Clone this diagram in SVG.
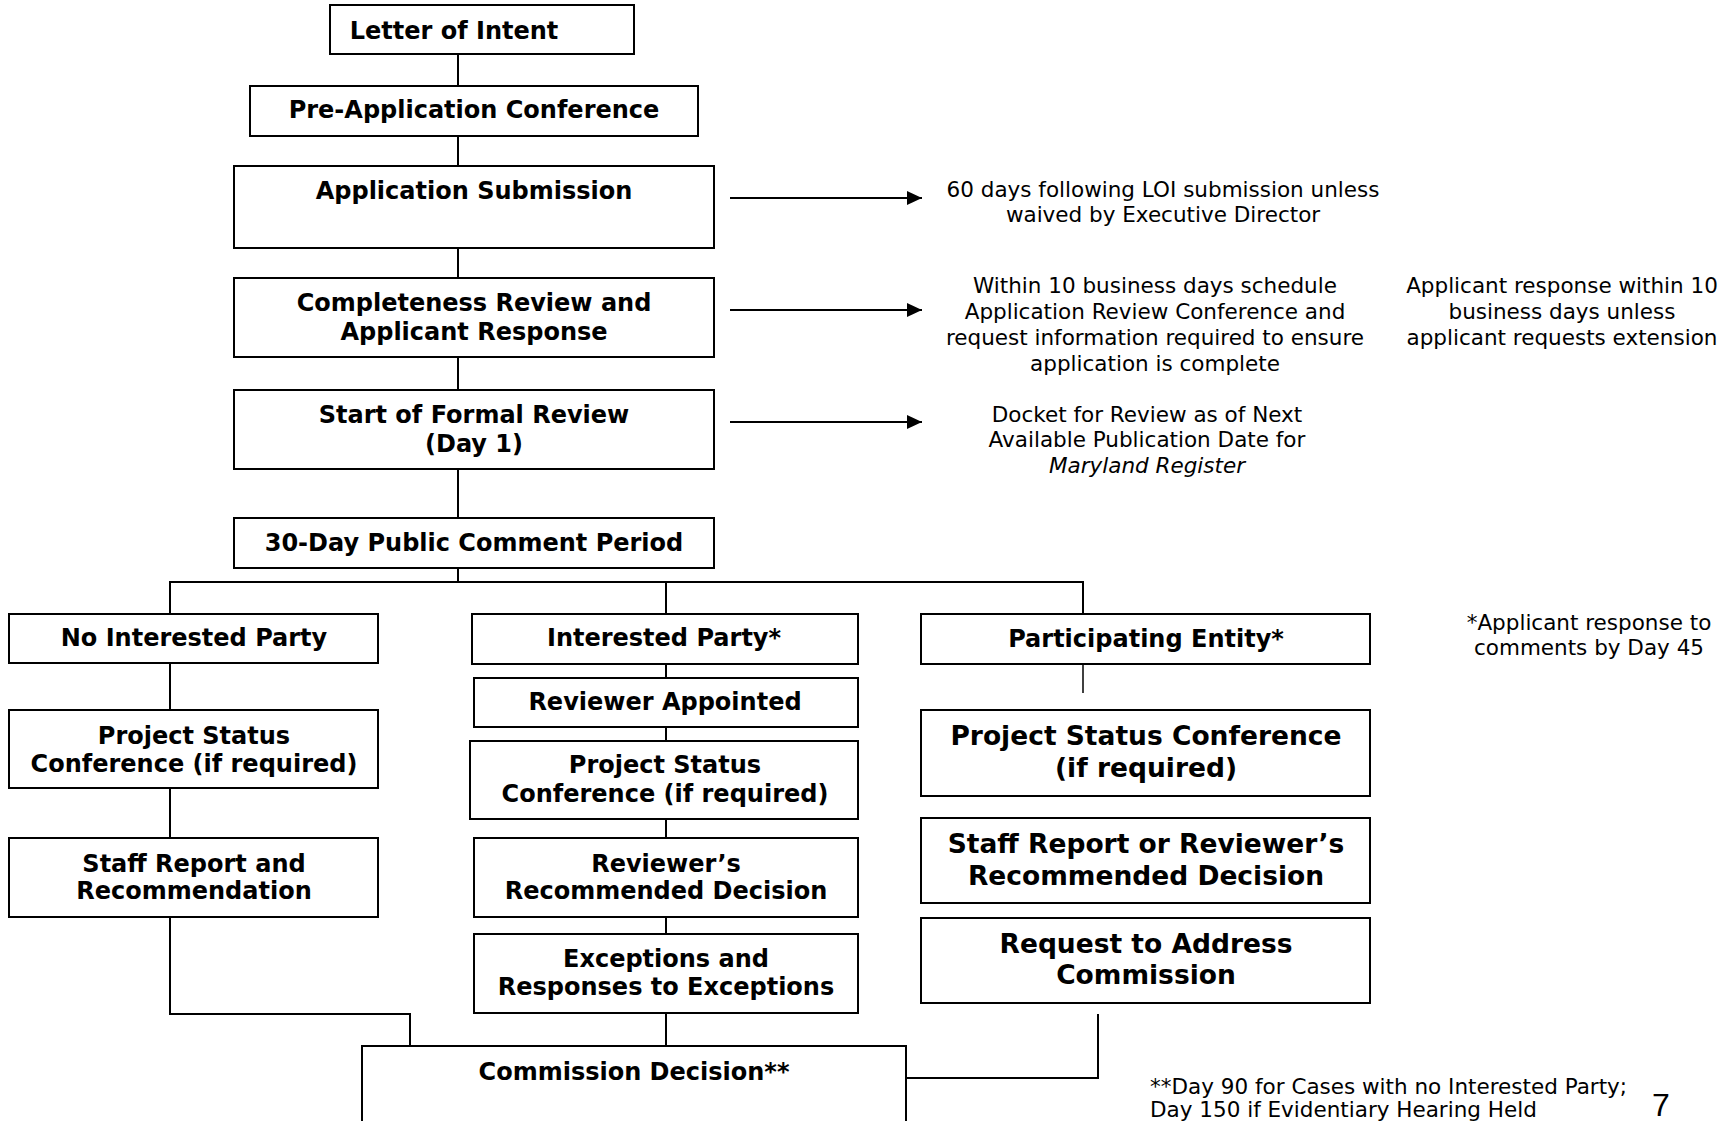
<svg xmlns="http://www.w3.org/2000/svg" width="1734" height="1121" viewBox="0 0 1734 1121">
<style>
.box{fill:#fff;stroke:#000;stroke-width:2}
.b{font-family:"DejaVu Sans",Verdana,sans-serif;font-weight:bold;font-size:24px;fill:#000;text-anchor:middle}
.bl{font-family:"DejaVu Sans",Verdana,sans-serif;font-weight:bold;font-size:26.5px;fill:#000;text-anchor:middle}
.r{font-family:"DejaVu Sans",Verdana,sans-serif;font-size:21.5px;fill:#000;text-anchor:middle}
.rs{font-family:"DejaVu Sans",Verdana,sans-serif;font-size:21.5px;fill:#000;text-anchor:start}
.ln{fill:none;stroke:#000;stroke-width:2}
</style>
<defs>
<marker id="arr" markerWidth="15" markerHeight="14" refX="15" refY="7" orient="auto" markerUnits="userSpaceOnUse">
<path d="M0,0 L15,7 L0,14 Z" fill="#000"/>
</marker>
</defs>
<rect width="1734" height="1121" fill="#fff"/>
<g id="connectors">
<path class="ln" d="M458,54 V86 M458,136 V166 M458,248 V278 M458,357 V390 M458,469 V518 M458,568 V582"/>
<path class="ln" d="M170,614 V582 H1083 V614 M666,582 V614"/>
<path class="ln" d="M170,663 V710 M170,788 V838"/>
<path class="ln" d="M666,664 V678 M666,727 V741 M666,819 V838 M666,917 V934 M666,1013 V1046"/>
<path class="ln" d="M1083,664 V693" style="stroke-width:1.5"/>
<path class="ln" d="M170,917 V1014 H410 V1046"/>
<path class="ln" d="M1098,1014 V1078 H906"/>
<line class="ln" x1="730" y1="198" x2="922" y2="198" marker-end="url(#arr)"/>
<line class="ln" x1="730" y1="310" x2="922" y2="310" marker-end="url(#arr)"/>
<line class="ln" x1="730" y1="422" x2="922" y2="422" marker-end="url(#arr)"/>
</g>
<g id="n-loi"><rect class="box" x="330" y="5" width="304" height="49"/><text class="b" x="454" y="39">Letter of Intent</text></g>
<g id="n-preapp"><rect class="box" x="250" y="86" width="448" height="50"/><text class="b" x="474" y="118">Pre-Application Conference</text></g>
<g id="n-appsub"><rect class="box" x="234" y="166" width="480" height="82"/><text class="b" x="474" y="199">Application Submission</text></g>
<g id="n-complete"><rect class="box" x="234" y="278" width="480" height="79"/><text class="b" x="474" y="311">Completeness Review and</text><text class="b" x="474" y="340">Applicant Response</text></g>
<g id="n-start"><rect class="box" x="234" y="390" width="480" height="79"/><text class="b" x="474" y="423">Start of Formal Review</text><text class="b" x="474" y="452">(Day 1)</text></g>
<g id="n-30day"><rect class="box" x="234" y="518" width="480" height="50"/><text class="b" x="474" y="551">30-Day Public Comment Period</text></g>
<g id="n-nip"><rect class="box" x="9" y="614" width="369" height="49"/><text class="b" x="194" y="646">No Interested Party</text></g>
<g id="n-psc1"><rect class="box" x="9" y="710" width="369" height="78"/><text class="b" x="194" y="744">Project Status</text><text class="b" x="194" y="772">Conference (if required)</text></g>
<g id="n-staff1"><rect class="box" x="9" y="838" width="369" height="79"/><text class="b" x="194" y="872">Staff Report and</text><text class="b" x="194" y="899">Recommendation</text></g>
<g id="n-ip"><rect class="box" x="472" y="614" width="386" height="50"/><text class="b" x="664" y="646">Interested Party*</text></g>
<g id="n-revapp"><rect class="box" x="474" y="678" width="384" height="49"/><text class="b" x="665" y="710">Reviewer Appointed</text></g>
<g id="n-psc2"><rect class="box" x="470" y="741" width="388" height="78"/><text class="b" x="665" y="773">Project Status</text><text class="b" x="665" y="802">Conference (if required)</text></g>
<g id="n-revrec"><rect class="box" x="474" y="838" width="384" height="79"/><text class="b" x="666" y="872">Reviewer’s</text><text class="b" x="666" y="899">Recommended Decision</text></g>
<g id="n-except"><rect class="box" x="474" y="934" width="384" height="79"/><text class="b" x="666" y="967">Exceptions and</text><text class="b" x="666" y="995">Responses to Exceptions</text></g>
<g id="n-pe"><rect class="box" x="921" y="614" width="449" height="50"/><text class="b" x="1146" y="647">Participating Entity*</text></g>
<g id="n-psc3"><rect class="box" x="921" y="710" width="449" height="86"/><text class="bl" x="1146" y="745">Project Status Conference</text><text class="bl" x="1146" y="777">(if required)</text></g>
<g id="n-staff3"><rect class="box" x="921" y="818" width="449" height="85"/><text class="bl" x="1146" y="853">Staff Report or Reviewer’s</text><text class="bl" x="1146" y="885">Recommended Decision</text></g>
<g id="n-request"><rect class="box" x="921" y="918" width="449" height="85"/><text class="bl" x="1146" y="953">Request to Address</text><text class="bl" x="1146" y="984">Commission</text></g>
<g id="n-decision"><rect class="box" x="362" y="1046" width="544" height="90"/><text class="b" x="634" y="1080">Commission Decision**</text></g>
<g id="notes">
<text class="r" x="1163" y="197">60 days following LOI submission unless</text>
<text class="r" x="1163" y="222">waived by Executive Director</text>
<text class="r" x="1155" y="293">Within 10 business days schedule</text>
<text class="r" x="1155" y="319">Application Review Conference and</text>
<text class="r" x="1155" y="345">request information required to ensure</text>
<text class="r" x="1155" y="371">application is complete</text>
<text class="r" x="1562" y="293">Applicant response within 10</text>
<text class="r" x="1562" y="319">business days unless</text>
<text class="r" x="1562" y="345">applicant requests extension</text>
<text class="r" x="1147" y="422">Docket for Review as of Next</text>
<text class="r" x="1147" y="447">Available Publication Date for</text>
<text class="r" x="1147" y="473" font-style="italic">Maryland Register</text>
<text class="r" x="1589" y="630">*Applicant response to</text>
<text class="r" x="1589" y="655">comments by Day 45</text>
<text class="rs" x="1150" y="1094">**Day 90 for Cases with no Interested Party;</text>
<text class="rs" x="1150" y="1117">Day 150 if Evidentiary Hearing Held</text>
<text x="1652" y="1116" font-family="'Liberation Sans',Arial,sans-serif" font-size="32" fill="#000">7</text>
</g>
</svg>
